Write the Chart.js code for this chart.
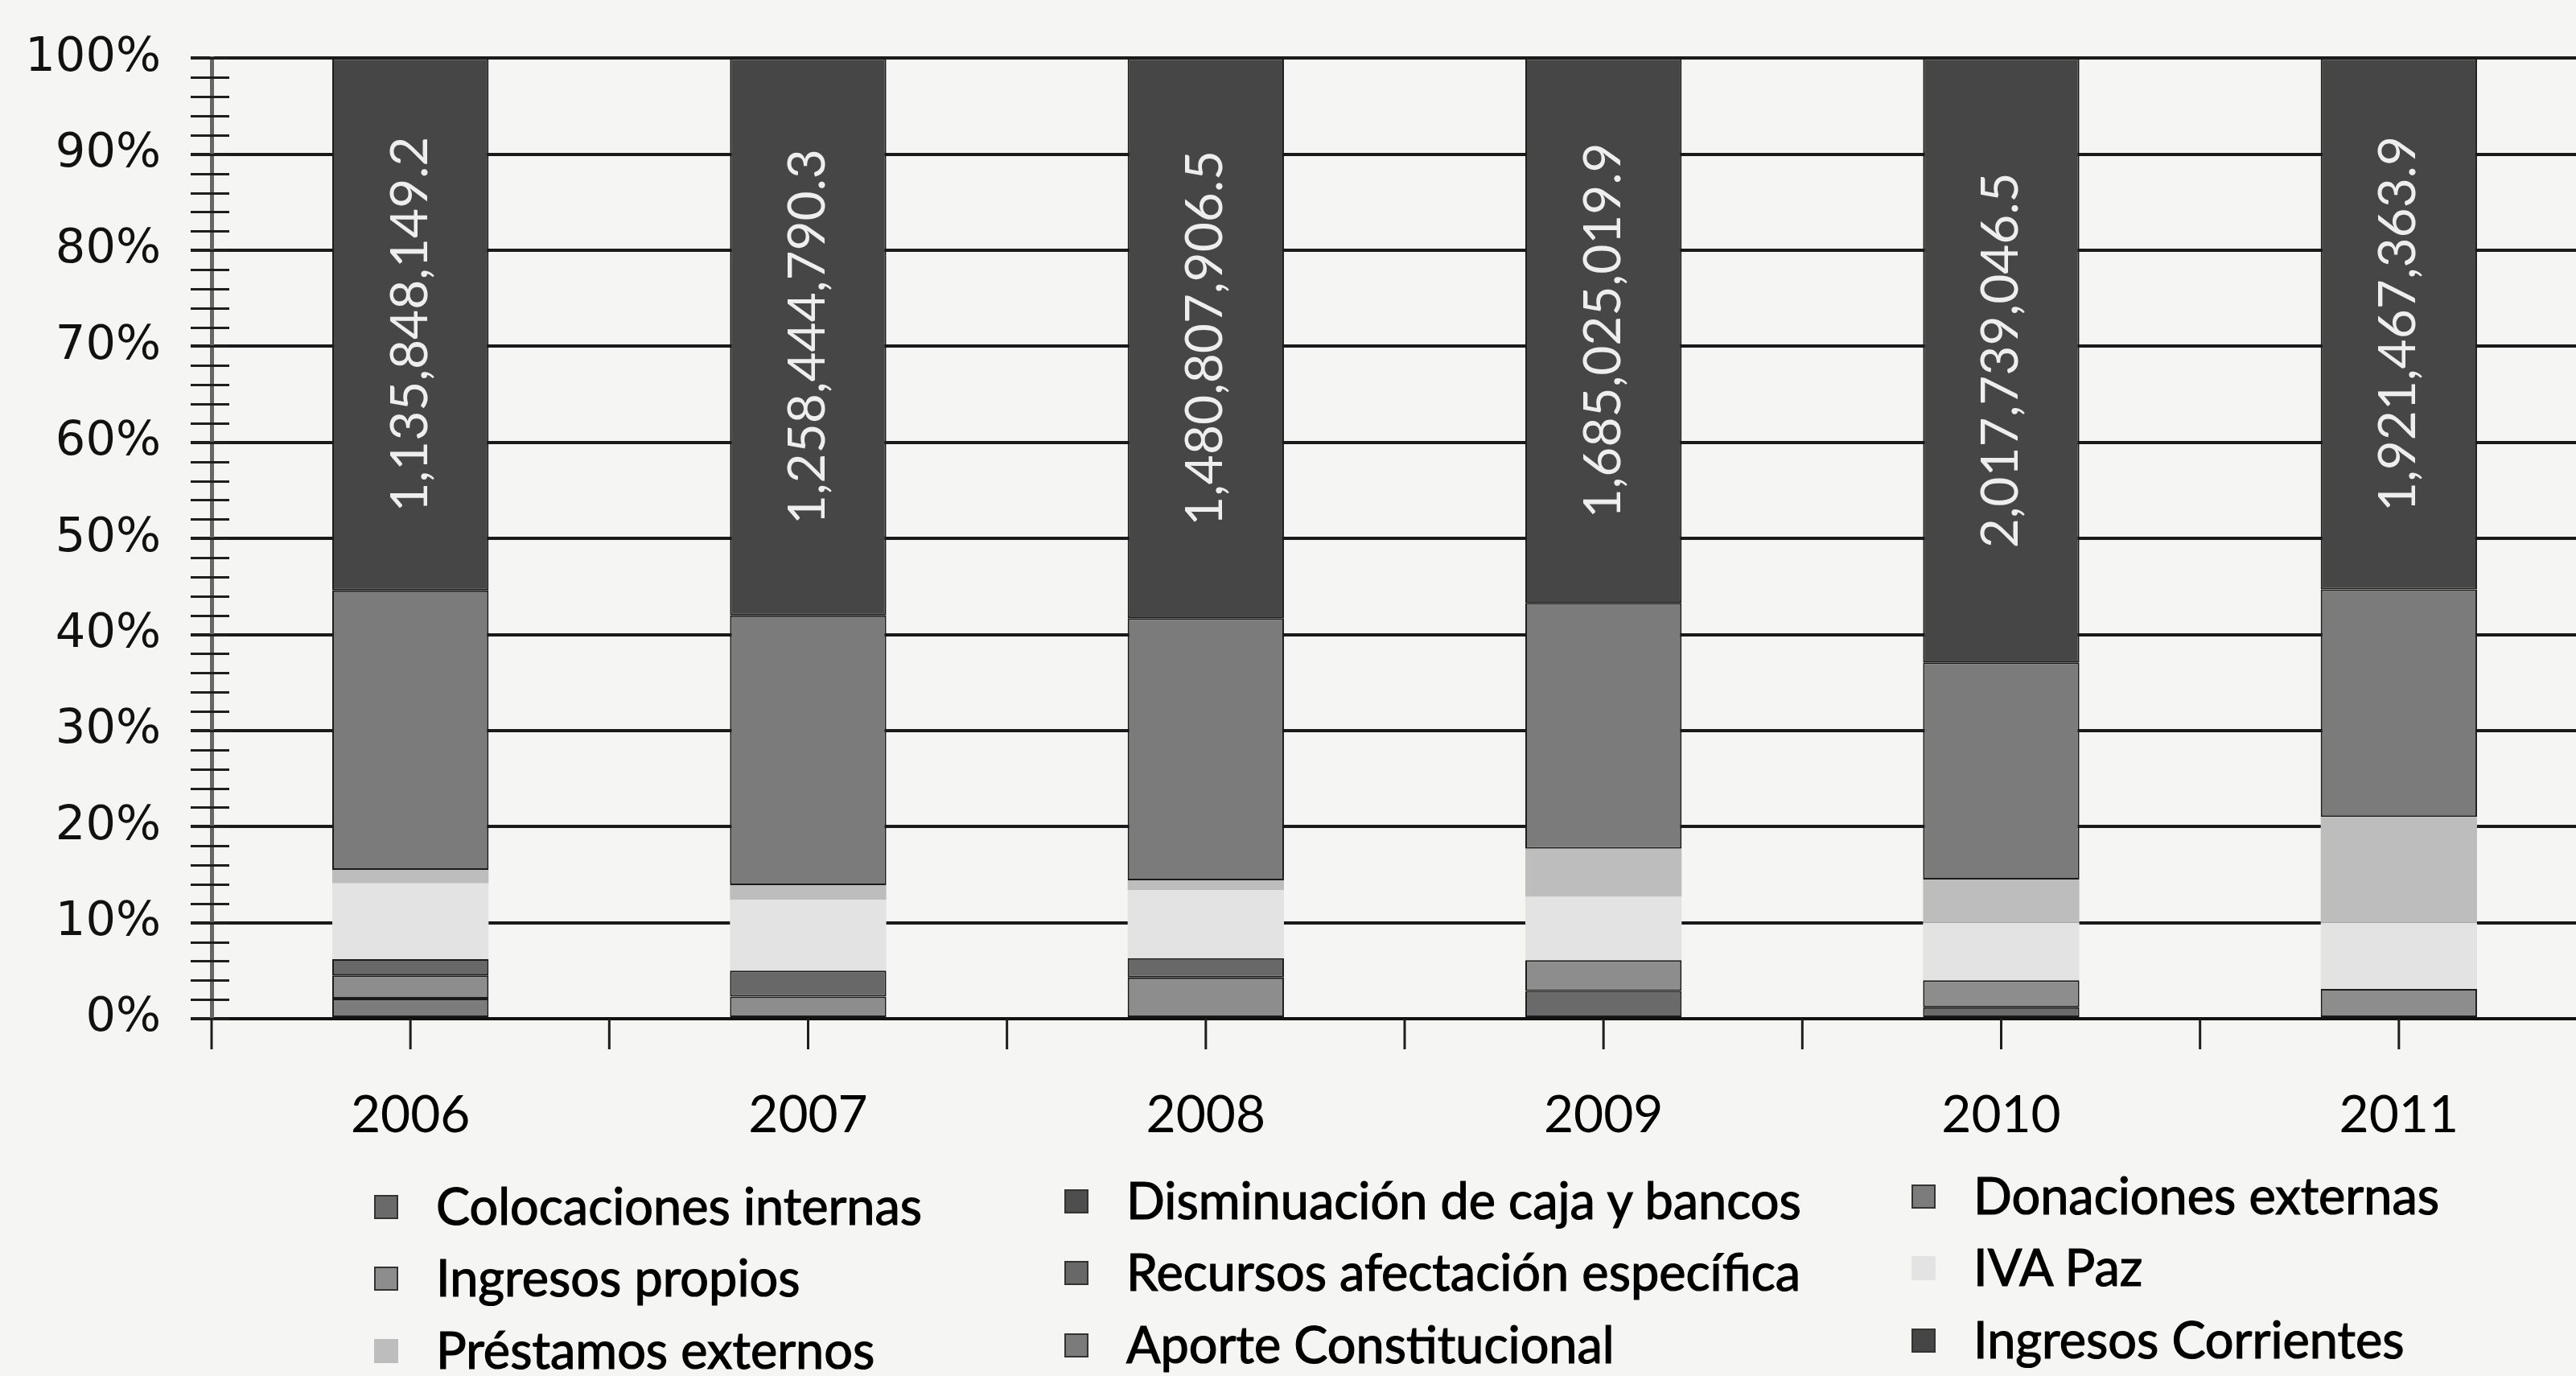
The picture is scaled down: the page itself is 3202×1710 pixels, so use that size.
<!DOCTYPE html>
<html>
<head>
<meta charset="utf-8">
<script src="https://cdn.jsdelivr.net/npm/chart.js@4.4.1/dist/chart.umd.min.js"></script>
<style>
  html, body { margin: 0; padding: 0; background: #f5f5f3; overflow: hidden; }
  #wrap { position: relative; width: 3202px; height: 1710px; overflow: hidden; }
  #chart { position: absolute; left: 0; top: 0; }
  .item { position: absolute; font-family: Lato, "Open Sans", sans-serif; font-size: 63px; color: #000; white-space: nowrap; line-height: 1; -webkit-text-stroke: 1.2px #000; }
  .swatch { position: absolute; width: 30px; height: 30px; box-sizing: border-box; }
</style>
</head>
<body>
<div id="wrap">
  <canvas id="chart" width="3240" height="1710"></canvas>
  <div id="legend"></div>
</div>
<script>
// Categories
const years = ['2006', '2007', '2008', '2009', '2010', '2011'];

// Share of each source in the total (%)
const colocacionesInternas = [null, null, null, 2.9, 1.2, null];
const disminucionCaja = [null, null, null, null, null, null];
const donacionesExternas = [2.1, null, null, null, null, null];
const ingresosPropios = [2.4, 2.3, 4.3, 3.2, 2.8, 3.1];
const recursosAfectacion = [1.7, 2.7, 2.0, null, null, null];
const ivaPaz = [7.9, 7.4, 7.1, 6.6, 6.0, 6.9];
const prestamosExternos = [1.4, 1.5, 1.0, 5.0, 4.5, 11.0];
const aporteConstitucional = [29.1, 28.1, 27.3, 25.6, 22.6, 23.7];
const ingresosCorrientes = [55.4, 58.0, 58.3, 56.7, 62.9, 55.3];

// Amounts printed on the Ingresos Corrientes segments
const corrientesMonto = [1135848149.2, 1258444790.3, 1480807906.5, 1685025019.9, 2017739046.5, 1921467363.9];

// Y axis ticks
const yTicks = [0, 10, 20, 30, 40, 50, 60, 70, 80, 90, 100];

function fmt(v) {
    return v.toLocaleString('en-US', { minimumFractionDigits: 1, maximumFractionDigits: 1 });
}

function ds(label, data, color, bordered) {
    return {
        label: label,
        data: data,
        backgroundColor: color,
        borderColor: '#1a1a1a',
        borderWidth: bordered ? 2 : 0,
        borderSkipped: false
    };
}

// Minor ticks on the y axis and tick marks under the x axis
const axisMarks = {
    id: 'axisMarks',
    afterDraw(chart) {
        const ctx = chart.ctx;
        const x = chart.scales.x, y = chart.scales.y;
        ctx.save();
        ctx.strokeStyle = '#1e1e1e';
        ctx.lineWidth = 3;
        ctx.beginPath();
        for (let v = 0; v <= 100; v += 2) {
            const py = Math.round(y.getPixelForValue(v)) + 0.5;
            ctx.moveTo(x.left - 26, py);
            ctx.lineTo(x.left + 22, py);
        }
        const half = (x.getPixelForValue(1) - x.getPixelForValue(0)) / 2;
        for (let i = 0; i < years.length; i++) {
            const c = x.getPixelForValue(i);
            [c - half, c].forEach(function (px) {
                ctx.moveTo(px, y.bottom);
                ctx.lineTo(px, y.bottom + 38);
            });
        }
        ctx.stroke();
        ctx.restore();
    }
};

// Rotated amount labels inside the top segment
const corrientesLabels = {
    id: 'corrientesLabels',
    afterDatasetsDraw(chart) {
        const ctx = chart.ctx;
        const meta = chart.getDatasetMeta(8);
        ctx.save();
        ctx.font = '64px Lato, "Open Sans", sans-serif';
        ctx.fillStyle = '#eeeeee';
        ctx.textAlign = 'center';
        ctx.textBaseline = 'middle';
        meta.data.forEach(function (bar, i) {
            const cy = (bar.y + bar.base) / 2;
            ctx.save();
            ctx.translate(bar.x, cy);
            ctx.rotate(-Math.PI / 2);
            ctx.fillText(fmt(corrientesMonto[i]), 0, 0);
            ctx.restore();
        });
        ctx.restore();
    }
};

const ctx = document.getElementById('chart').getContext('2d');
const chart = new Chart(ctx, {
    type: 'bar',
    data: {
        labels: years,
        datasets: [
            ds('Colocaciones internas', colocacionesInternas, '#6a6a6a', true),
            ds('Disminuación de caja y bancos', disminucionCaja, '#4e4e4e', true),
            ds('Donaciones externas', donacionesExternas, '#7c7c7c', true),
            ds('Ingresos propios', ingresosPropios, '#8d8d8d', true),
            ds('Recursos afectación específica', recursosAfectacion, '#686868', true),
            ds('IVA Paz', ivaPaz, '#e3e3e3', false),
            ds('Préstamos externos', prestamosExternos, '#bdbdbd', false),
            ds('Aporte Constitucional', aporteConstitucional, '#7b7b7b', true),
            ds('Ingresos Corrientes', ingresosCorrientes, '#464646', true)
        ]
    },
    options: {
        responsive: false,
        animation: false,
        devicePixelRatio: 1,
        layout: { padding: { left: 30, right: 11, top: 72, bottom: 0 } },
        datasets: {
            bar: { categoryPercentage: 1, barPercentage: 0.393 }
        },
        plugins: {
            legend: { display: false },
            tooltip: { enabled: false }
        },
        scales: {
            x: {
                stacked: true,
                grid: { display: false },
                border: { display: true, color: '#111', width: 4 },
                ticks: {
                    padding: 74,
                    color: '#000',
                    font: { family: 'Lato, "Open Sans", sans-serif', size: 64 }
                },
                afterFit(scale) { scale.height = 444; }
            },
            y: {
                stacked: true,
                min: 0,
                max: 100,
                afterBuildTicks(scale) {
                    scale.ticks = yTicks.map(function (v) { return { value: v }; });
                },
                grid: { color: '#1a1a1a', lineWidth: 4, tickLength: 26, drawTicks: true },
                border: { display: true, color: '#666', width: 5 },
                ticks: {
                    padding: 37,
                    color: '#111',
                    font: { family: '"DejaVu Sans", sans-serif', size: 59 },
                    callback: function (v) { return v + '%'; }
                },
                afterFit(scale) { scale.width = 233; }
            }
        }
    },
    plugins: [axisMarks, corrientesLabels]
});

// Legend in three columns, filled row by row
const legend = document.getElementById('legend');
const colX = [465, 1323, 2376];
const rowY = [1500, 1589, 1679];
const colDy = [0, -7, -13];
chart.data.datasets.forEach(function (d, k) {
    const row = Math.floor(k / 3), col = k % 3;
    const cy = rowY[row] + colDy[col];
    const sw = document.createElement('div');
    sw.className = 'swatch';
    sw.style.left = colX[col] + 'px';
    sw.style.top = (cy - 15) + 'px';
    sw.style.background = d.backgroundColor;
    if (d.borderWidth) sw.style.border = '2px solid #333';
    legend.appendChild(sw);
    const tx = document.createElement('div');
    tx.className = 'item';
    tx.textContent = d.label;
    tx.style.left = (colX[col] + 77) + 'px';
    tx.style.top = (cy - 34) + 'px';
    legend.appendChild(tx);
});
</script>
</body>
</html>
